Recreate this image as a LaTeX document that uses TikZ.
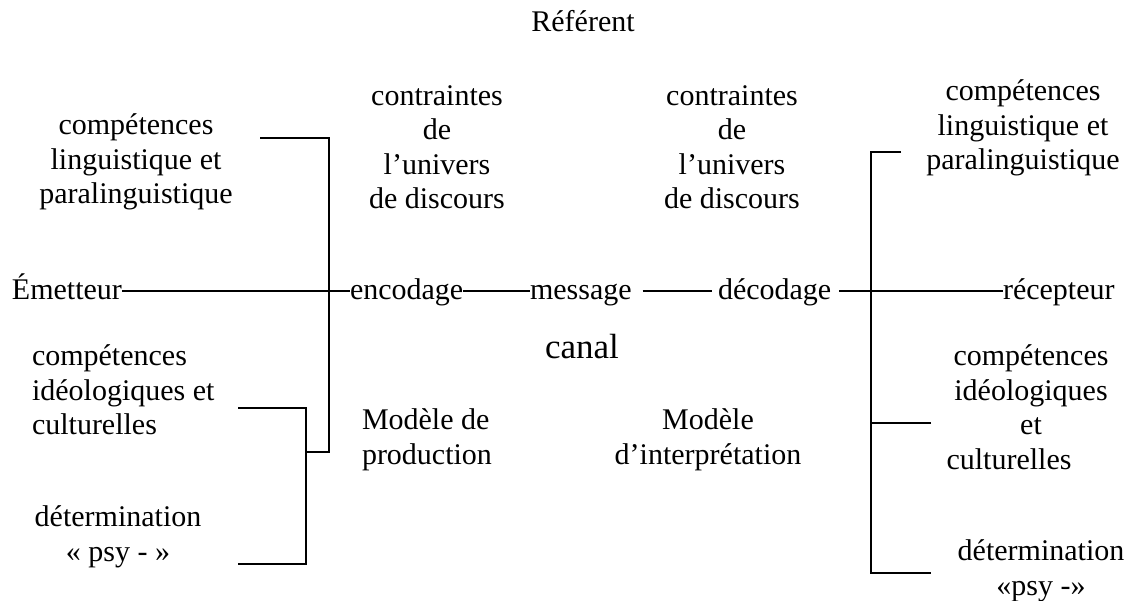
\documentclass[tikz,border=0pt]{standalone}
\usepackage{fontspec}
\setmainfont{Liberation Serif}
\begin{document}
\begin{tikzpicture}[x=1pt,y=1pt,
  lbl/.style={inner sep=0pt, outer sep=0pt, font=\fontsize{30}{34.5}\selectfont, align=center},
  big/.style={inner sep=0pt, outer sep=0pt, font=\fontsize{35}{40}\selectfont},
  wire/.style={line width=1.6pt}]
\useasboundingbox (0,0) rectangle (1131,-600);

% top labels
\node[lbl] (ref) at (583,-21) {Référent};
\node[lbl] (cL) at (437,-147) {contraintes\\de\\l’univers\\de discours};
\node[lbl] (cR) at (732,-147) {contraintes\\de\\l’univers\\de discours};
\node[lbl] (compL) at (136,-162) {compétences\\linguistique et\\paralinguistique};
\node[lbl] (compR) at (1023,-128) {compétences\\linguistique et\\paralinguistique};

% communication chain, all on one baseline
\node[lbl, anchor=base west] (emet) at (12,-299) {Émetteur};
\node[lbl, anchor=base west] (enc) at (350,-299) {encodage};
\node[lbl, anchor=base west] (msg) at (530,-299) {message};
\node[lbl, anchor=base west] (dec) at (718,-299) {décodage};
\node[lbl, anchor=base west] (rec) at (1003,-299) {récepteur};
\node[big] (canal) at (582,-347) {canal};

% lower labels
\node[lbl, align=left, anchor=west] (ideoL) at (32,-390) {compétences\\idéologiques et\\culturelles};
\node[lbl] (detL) at (118,-537) {détermination\\« psy - »};
\node[lbl, align=left, anchor=west] (modP) at (362,-440) {Modèle de\\production};
\node[lbl] (modI) at (708,-440) {Modèle\\d’interprétation};
\node[lbl] (ideoR) at (1031,-407) {compétences\\idéologiques\\et\\culturelles\hspace*{44pt}};
\node[lbl] (detR) at (1041,-571) {détermination\\«psy -»};

% chain connectors, drawn a little above the baseline
\tikzset{lift/.style={yshift=8pt}}
\draw[wire] ([lift]emet.base east) -- ([lift]enc.base west);
\draw[wire] ([lift]enc.base east) -- ([lift]msg.base west);
\draw[wire] ([lift,xshift=11pt]msg.base east) -- ([lift,xshift=-6pt]dec.base west);
\draw[wire] ([lift,xshift=8pt]dec.base east) -- ([lift]rec.base west);

% sender-side brackets
\coordinate (lb1t) at (329,-136);
\coordinate (lb1b) at (329,-452);
\coordinate (lb1h) at (260,-138);
\coordinate (lb2t) at (306,-408);
\coordinate (lb2b) at (306,-564);
\coordinate (lb2ht) at (238,-408);
\coordinate (lb2hb) at (238,-564);
\draw[wire] (lb1h) -- (lb1h -| lb1t) -- (lb1b) -- (lb1b -| lb2t);
\draw[wire] (lb2ht) -- (lb2t) -- (lb2b) -- (lb2hb);

% receiver-side bracket
\coordinate (rbt) at (871,-152);
\coordinate (rbb) at (871,-573);
\coordinate (rbth) at (901,-152);
\coordinate (rbmh) at (931,-423);
\coordinate (rbbh) at (931,-573);
\draw[wire] (rbth) -- (rbt) -- (rbb) -- (rbbh);
\draw[wire] (rbmh) -- (rbmh -| rbt);
\end{tikzpicture}
\end{document}
